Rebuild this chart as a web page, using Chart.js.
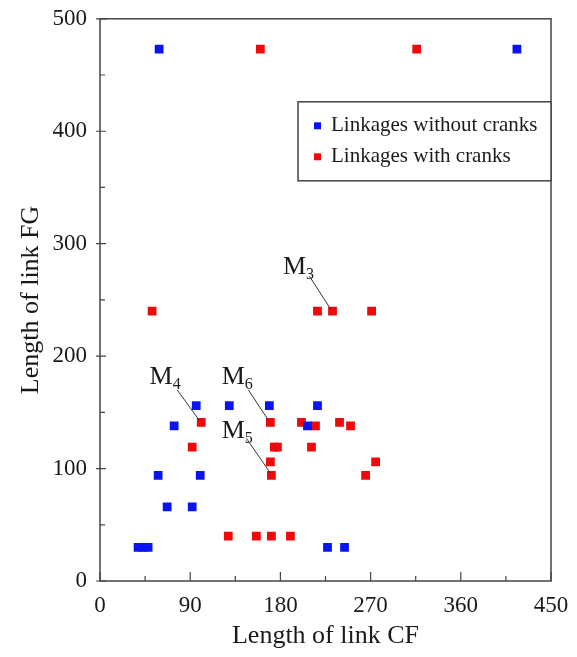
<!DOCTYPE html>
<html>
<head>
<meta charset="utf-8">
<script src="https://cdn.jsdelivr.net/npm/chart.js@4"></script>
<style>
  html, body { margin: 0; padding: 0; background: #fff; }
  canvas { display: block; }
</style>
</head>
<body>
<canvas id="linkChart" width="577" height="657"></canvas>
<script>
// Data
const withoutCranksCF = [59, 416, 96, 129, 169, 217, 74, 207, 58, 100, 67, 92, 38, 43, 48, 227, 244];
const withoutCranksFG = [473, 473, 156, 156, 156, 156, 138, 138, 94, 94, 66, 66, 30, 30, 30, 30, 30];

const withCranksCF = [160, 316, 52, 217, 232, 271, 101, 170, 201, 239, 215, 250, 92, 174, 177, 211, 170, 275, 171, 265, 128, 156, 171, 190];
const withCranksFG = [473, 473, 240, 240, 240, 240, 141, 141, 141, 141, 138, 138, 119, 119, 119, 119, 106, 106, 94, 94, 40, 40, 40, 40];

const seriesLabels = ['Linkages without cranks', 'Linkages with cranks'];

const xMajorTicks = [0, 90, 180, 270, 360, 450];
const yMajorTicks = [0, 100, 200, 300, 400, 500];

// callouts: name, subscript, label centre, line start, line end (data units)
const calloutNames = ['M', 'M', 'M', 'M'];
const calloutSubs = ['3', '4', '6', '5'];
const calloutText = [[198, 281], [65, 183], [137, 183], [137, 135]];
const calloutFrom = [[209, 271], [77, 170], [148, 170], [146, 127]];
const calloutTo = [[230, 242], [99, 143], [168, 143], [170, 96]];

const toPoints = (xs, ys) => xs.map((x, i) => ({ x, y: ys[i] }));

const SERIF = '"Liberation Serif", "DejaVu Serif", serif';
const INK = '#333';

// frame, tick marks, legend and callouts
const figurePlugin = {
    id: 'figure',
    afterDraw(chart) {
        const { ctx, chartArea: a, scales: { x, y } } = chart;
        ctx.save();

        // frame
        ctx.strokeStyle = '#444';
        ctx.lineWidth = 1.5;
        ctx.strokeRect(a.left, a.top, a.right - a.left, a.bottom - a.top);

        // ticks
        ctx.lineWidth = 1.2;
        ctx.beginPath();
        x.ticks.forEach(t => {
            const px = x.getPixelForValue(t.value);
            const len = xMajorTicks.includes(t.value) ? 9 : 5;
            ctx.moveTo(px, a.bottom);
            ctx.lineTo(px, a.bottom - len);
        });
        y.ticks.forEach(t => {
            const py = y.getPixelForValue(t.value);
            if (yMajorTicks.includes(t.value)) {
                ctx.moveTo(a.left - 4, py);
                ctx.lineTo(a.left + 6, py);
            } else {
                ctx.moveTo(a.left, py);
                ctx.lineTo(a.left + 5, py);
            }
        });
        ctx.stroke();

        // callouts
        ctx.strokeStyle = INK;
        ctx.lineWidth = 1;
        ctx.fillStyle = '#1a1a1a';
        calloutNames.forEach((name, i) => {
            ctx.beginPath();
            ctx.moveTo(x.getPixelForValue(calloutFrom[i][0]), y.getPixelForValue(calloutFrom[i][1]));
            ctx.lineTo(x.getPixelForValue(calloutTo[i][0]), y.getPixelForValue(calloutTo[i][1]));
            ctx.stroke();

            const cx = x.getPixelForValue(calloutText[i][0]);
            const cy = y.getPixelForValue(calloutText[i][1]);
            ctx.font = '26px ' + SERIF;
            const wM = ctx.measureText(name).width;
            ctx.font = '16px ' + SERIF;
            const wS = ctx.measureText(calloutSubs[i]).width;
            const left = cx - (wM + wS) / 2;
            ctx.textBaseline = 'alphabetic';
            ctx.textAlign = 'left';
            ctx.font = '26px ' + SERIF;
            ctx.fillText(name, left, cy + 9);
            ctx.font = '16px ' + SERIF;
            ctx.fillText(calloutSubs[i], left + wM, cy + 14);
        });

        // legend box
        const lw = 253, lh = 79;
        const lx = a.right - lw, ly = a.top + 83;
        ctx.fillStyle = '#fff';
        ctx.fillRect(lx, ly, lw, lh);
        ctx.strokeStyle = '#444';
        ctx.lineWidth = 1.5;
        ctx.strokeRect(lx, ly, lw, lh);
        ctx.font = '21px ' + SERIF;
        ctx.textBaseline = 'middle';
        chart.data.datasets.forEach((ds, i) => {
            const rowY = ly + 24 + i * 31;
            ctx.fillStyle = ds.backgroundColor;
            ctx.fillRect(lx + 16, rowY - 3.5, 7, 7);
            ctx.fillStyle = '#1a1a1a';
            ctx.fillText(ds.label, lx + 33, rowY);
        });

        ctx.restore();
    }
};

new Chart(document.getElementById('linkChart'), {
    type: 'scatter',
    data: {
        datasets: [
            {
                label: seriesLabels[0],
                data: toPoints(withoutCranksCF, withoutCranksFG),
                backgroundColor: '#0a14f0',
                borderColor: '#0a14f0',
                pointStyle: 'rect',
                pointRadius: 6.2,
                borderWidth: 0
            },
            {
                label: seriesLabels[1],
                data: toPoints(withCranksCF, withCranksFG),
                backgroundColor: '#ee0a0a',
                borderColor: '#ee0a0a',
                pointStyle: 'rect',
                pointRadius: 6.2,
                borderWidth: 0
            }
        ]
    },
    options: {
        responsive: false,
        animation: false,
        layout: { padding: { top: 18, right: 26, left: 0, bottom: 0 } },
        plugins: {
            legend: { display: false },
            tooltip: { enabled: false }
        },
        scales: {
            x: {
                type: 'linear',
                min: 0,
                max: 450,
                grid: { display: false },
                border: { display: false },
                ticks: {
                    stepSize: 45,
                    autoSkip: false,
                    maxRotation: 0,
                    padding: 3,
                    color: '#1a1a1a',
                    font: { family: SERIF, size: 23 },
                    callback: v => xMajorTicks.includes(v) ? String(v) : ''
                },
                title: {
                    display: true,
                    text: 'Length of link CF',
                    color: '#1a1a1a',
                    font: { family: SERIF, size: 26 },
                    padding: { top: 0, bottom: 5 }
                },
                afterFit: s => { s.height = 76; }
            },
            y: {
                type: 'linear',
                min: 0,
                max: 500,
                grid: { display: false },
                border: { display: false },
                ticks: {
                    stepSize: 50,
                    autoSkip: false,
                    padding: 5,
                    color: '#1a1a1a',
                    font: { family: SERIF, size: 23 },
                    callback: v => yMajorTicks.includes(v) ? String(v) : ''
                },
                title: {
                    display: true,
                    text: 'Length of link FG',
                    color: '#1a1a1a',
                    font: { family: SERIF, size: 26 },
                    padding: { top: 16, bottom: 0 }
                },
                afterFit: s => { s.width = 100; }
            }
        }
    },
    plugins: [figurePlugin]
});
</script>
</body>
</html>
